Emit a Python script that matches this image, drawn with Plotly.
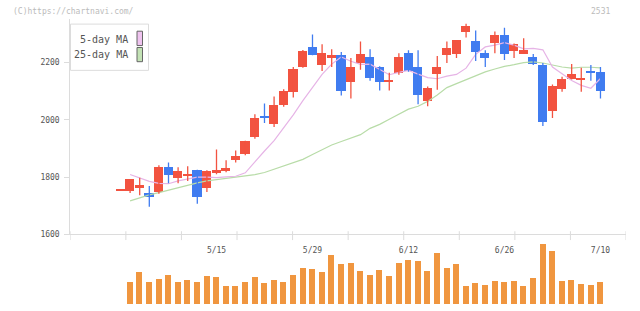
import plotly.graph_objects as go

# ---------------- data ----------------
dates = ["4/26", "4/27", "4/28", "5/1", "5/2", "5/8", "5/9", "5/10", "5/11", "5/12",
         "5/15", "5/16", "5/17", "5/18", "5/19", "5/22", "5/23", "5/24", "5/25", "5/26",
         "5/29", "5/30", "5/31", "6/1", "6/2", "6/5", "6/6", "6/7", "6/8", "6/9",
         "6/12", "6/13", "6/14", "6/15", "6/16", "6/19", "6/20", "6/21", "6/22", "6/23",
         "6/26", "6/27", "6/28", "6/29", "6/30", "7/3", "7/4", "7/5", "7/6", "7/7",
         "7/10"]

opens = [1753, 1749, 1760, 1745, 1748, 1834, 1797, 1806, 1824, 1759,
         1814, 1821, 1858, 1879, 1937, 2013, 1985, 2050, 2095, 2181,
         2253, 2191, 2215, 2225, 2129, 2198, 2218, 2184, 2129, 2160,
         2232, 2181, 2064, 2157, 2225, 2229, 2304, 2273, 2232, 2266,
         2294, 2239, 2229, 2218, 2191, 2030, 2105, 2140, 2136, 2170,
         2164]
highs = [1756, 1793, 1798, 1769, 1841, 1851, 1834, 1838, 1826, 1824,
         1896, 1859, 1893, 1927, 2019, 2057, 2081, 2106, 2184, 2243,
         2297, 2263, 2246, 2236, 2215, 2273, 2246, 2187, 2164, 2232,
         2242, 2242, 2116, 2222, 2273, 2277, 2335, 2311, 2242, 2308,
         2321, 2266, 2284, 2229, 2198, 2123, 2150, 2194, 2181, 2191,
         2184]
lows = [1753, 1745, 1737, 1697, 1742, 1779, 1779, 1786, 1707, 1748,
        1810, 1817, 1851, 1876, 1934, 1989, 1975, 2045, 2078, 2181,
        2225, 2170, 2184, 2085, 2074, 2174, 2136, 2102, 2102, 2157,
        2167, 2054, 2047, 2105, 2198, 2215, 2287, 2205, 2184, 2232,
        2208, 2215, 2229, 2191, 1978, 2006, 2098, 2140, 2098, 2136,
        2074]
closes = [1756, 1793, 1772, 1731, 1834, 1807, 1821, 1810, 1731, 1821,
          1824, 1829, 1872, 1923, 2006, 2006, 2050, 2100, 2174, 2239,
          2225, 2232, 2225, 2098, 2184, 2229, 2146, 2129, 2136, 2218,
          2167, 2085, 2109, 2181, 2249, 2277, 2325, 2236, 2215, 2294,
          2229, 2263, 2242, 2194, 1992, 2116, 2140, 2157, 2146, 2160,
          2098]
volumes = [0, 22000, 33000, 22000, 25000, 30000, 22000, 24000, 22000, 28000,
           27000, 18000, 18000, 22000, 27000, 21000, 24000, 22000, 29000, 37000,
           36000, 33000, 50000, 41000, 42000, 34000, 30000, 35000, 28000, 42000,
           45000, 44000, 34000, 52000, 37000, 41000, 18000, 21000, 19000, 23000,
           22000, 23000, 18000, 26000, 61000, 54000, 23000, 24000, 20000, 19000,
           22000]
ma5 = [None, 1809, 1797, 1785, 1778, 1777, 1787, 1793, 1800, 1800,
       1798, 1801, 1803, 1815, 1854, 1891, 1927, 1971, 2017, 2067,
       2114, 2158, 2194, 2219, 2204, 2193, 2194, 2176, 2157, 2165,
       2172, 2159, 2147, 2143, 2152, 2158, 2180, 2228, 2254, 2260,
       2269, 2260, 2247, 2249, 2244, 2184, 2161, 2137, 2120, 2110,
       2144]
ma25 = [None, 1717, 1728, 1738, 1746, 1755, 1764, 1773, 1780, 1787,
        1791, 1796, 1799, 1803, 1809, 1816, 1827, 1838, 1851, 1862,
        1879, 1896, 1912, 1924, 1935, 1948, 1970, 1984, 2002, 2020,
        2037, 2047, 2064, 2086, 2112, 2126, 2140, 2153, 2167, 2177,
        2186, 2192, 2199, 2202, 2198, 2191, 2184, 2180, 2183, 2183,
        2181]
price_ticks = [1600, 1800, 2000, 2200]
label_dates = ["5/15", "5/29", "6/12", "6/26", "7/10"]
legend_names = ["5-day MA", "25-day MA"]

# ---------------- styling ----------------
W, H = 640, 311
RED = "#f25340"
BLUE = "#407cf0"
ORANGE = "#f0963f"
PINK = "#e6b4e6"
GREEN = "#b8dca8"
AXIS = "#dcdcdc"
TXT = "#555555"
FONT = "DejaVu Sans Mono"


def fx(p):
    return p / W


def fy(p):
    return 1 - p / H


x = list(range(len(dates)))
XR = [-5.23, 52.66]
up = [c >= o for o, c in zip(opens, closes)]

fig = go.Figure()

# moving averages (behind candles)
fig.add_trace(go.Scatter(x=x, y=ma25, mode="lines", line=dict(color=GREEN, width=1.2),
                         hoverinfo="skip", showlegend=False))
fig.add_trace(go.Scatter(x=x, y=ma5, mode="lines", line=dict(color=PINK, width=1.2),
                         hoverinfo="skip", showlegend=False))

# wicks
for flag, col in ((True, RED), (False, BLUE)):
    wx, wy = [], []
    for i in x:
        if up[i] == flag:
            wx += [i, i, None]
            wy += [lows[i], highs[i], None]
    fig.add_trace(go.Scatter(x=wx, y=wy, mode="lines", line=dict(color=col, width=1.3),
                             hoverinfo="skip", showlegend=False))

# bodies
for flag, col in ((True, RED), (False, BLUE)):
    bx = [i for i in x if up[i] == flag]
    base = [min(opens[i], closes[i]) for i in bx]
    hgt = [abs(closes[i] - opens[i]) for i in bx]
    fig.add_trace(go.Bar(x=bx, y=hgt, base=base, width=0.94,
                         marker=dict(color=col, line=dict(width=0)),
                         showlegend=False))

# volume
fig.add_trace(go.Bar(x=x, y=volumes, width=0.62, xaxis="x2", yaxis="y2",
                     marker=dict(color=ORANGE, line=dict(width=0)), showlegend=False))

tickvals = [dates.index(d) for d in label_dates]

fig.update_layout(
    width=W, height=H, margin=dict(l=0, r=0, t=0, b=0),
    paper_bgcolor="white", plot_bgcolor="white",
    barmode="overlay", bargap=0, showlegend=False,
    font=dict(family=FONT, color=TXT, size=8),
    xaxis=dict(domain=[fx(70.3), fx(626)], range=XR, showgrid=False, zeroline=False,
               showline=True, linecolor=AXIS, linewidth=1,
               tickvals=tickvals, ticktext=label_dates, ticks="",
               ticklabelstandoff=8, tickfont=dict(family=FONT, size=8, color=TXT),
               anchor="y"),
    yaxis=dict(domain=[fy(238.3), fy(19.7)], range=[1600, 2350], showgrid=False,
               zeroline=False, showline=True, linecolor=AXIS, linewidth=1,
               tickvals=price_ticks, ticks="outside", ticklen=5, tickcolor=AXIS,
               ticklabelstandoff=3, tickfont=dict(family=FONT, size=8, color=TXT),
               anchor="x"),
    xaxis2=dict(domain=[fx(70.3), fx(626)], range=XR, visible=False, anchor="y2"),
    yaxis2=dict(domain=[fy(309), fy(248)], range=[0, max(volumes)], visible=False,
                anchor="x2"),
)

shapes = []
# small vertical grid ticks across the price axis
step = (XR[1] - XR[0]) / 10
for k in range(0, 11):
    xv = XR[0] + k * step
    shapes.append(dict(type="line", xref="x", yref="paper", x0=xv, x1=xv,
                       y0=fy(244), y1=fy(235), line=dict(color=AXIS, width=1)))
# legend box
shapes.append(dict(type="rect", xref="paper", yref="paper", x0=fx(70.5), x1=fx(148.5),
                   y0=fy(71.5), y1=fy(24.5), line=dict(color=AXIS, width=1),
                   fillcolor="white", layer="above"))
swatch = [(PINK, 31.7, 46.3, "#efc3ef"), (GREEN, 48.3, 62.7, "#c3e2b5")]
for col, top, bot, fill in swatch:
    shapes.append(dict(type="rect", xref="paper", yref="paper", x0=fx(137), x1=fx(142.5),
                       y0=fy(bot), y1=fy(top), line=dict(color="#666666", width=1),
                       fillcolor=fill, layer="above"))
fig.update_layout(shapes=shapes)

ann = []
for name, yc in zip(legend_names, (40.0, 55.5)):
    ann.append(dict(text=name, xref="paper", yref="paper", x=fx(130), y=fy(yc),
                    xanchor="right", yanchor="middle", showarrow=False,
                    font=dict(family=FONT, size=10, color=TXT)))
ann.append(dict(text="(C)https://chartnavi.com/", xref="paper", yref="paper",
                x=fx(11), y=fy(12), xanchor="left", yanchor="middle", showarrow=False,
                font=dict(family=FONT, size=8, color="#bbbbbb")))
ann.append(dict(text="2531", xref="paper", yref="paper",
                x=fx(612), y=fy(12), xanchor="right", yanchor="middle", showarrow=False,
                font=dict(family=FONT, size=8, color="#bbbbbb")))
fig.update_layout(annotations=ann)

fig.write_html("out.html")
